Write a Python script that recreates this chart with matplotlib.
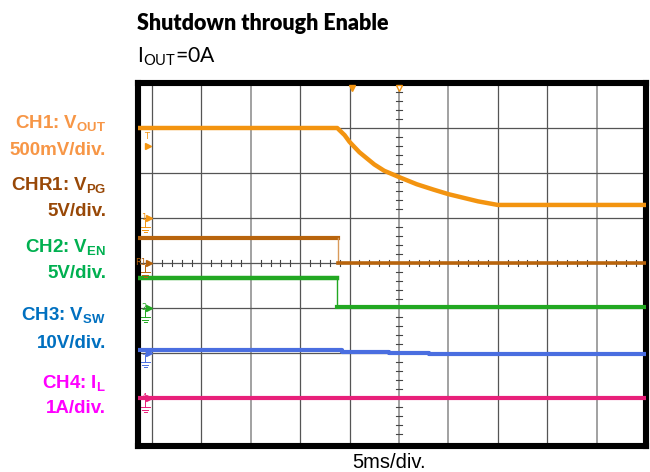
import matplotlib
matplotlib.use('Agg')
import matplotlib.pyplot as plt

plt.rcParams['mathtext.fontset'] = 'custom'
plt.rcParams['mathtext.rm'] = 'Lato'
plt.rcParams['mathtext.bf'] = 'Liberation Sans:bold'
plt.rcParams['mathtext.it'] = 'Liberation Sans:italic'

# ---------------- data (screen divisions) ----------------
vout_t = [-0.3, 3.75, 3.9, 4.0, 4.2, 4.5, 4.7, 5.0, 5.36, 5.7, 6.0, 6.3, 6.6, 7.0, 10.0]
vout_y = [7.0, 7.0, 6.84, 6.69, 6.46, 6.19, 6.05, 5.91, 5.75, 5.63, 5.53, 5.45, 5.37, 5.29, 5.29]

vpg_t = [-0.3, 3.77, 10.0]
vpg_y = [4.56, 4.0, 4.0]

ven_t = [-0.3, 3.75, 10.0]
ven_y = [3.67, 3.03, 3.03]

vsw_t = [-0.3, 3.85, 4.8, 5.6, 10.0]
vsw_y = [2.07, 2.03, 2.0, 1.97, 1.97]

il_t = [-0.3, 10.0]
il_y = [1.0, 1.0]

ground_levels = [5.0, 4.0, 3.0, 2.0, 1.0]
ground_names = ['1', 'R1', '2', '3', '4']

label_lines = [
    (r'CH1: V$_{\mathbf{OUT}}$', '500mV/div.'),
    (r'CHR1: V$_{\mathbf{PG}}$', '5V/div.'),
    (r'CH2: V$_{\mathbf{EN}}$', '5V/div.'),
    (r'CH3: V$_{\mathbf{SW}}$', '10V/div.'),
    (r'CH4: I$_{\mathbf{L}}$', '1A/div.'),
]

trace_colors = ['#F39410', '#B8640C', '#22A822', '#4A6EE0', '#E8207A']
label_colors = ['#F79646', '#984807', '#00B050', '#0070C0', '#FF00FF']

W, H = 650, 472
fig = plt.figure(figsize=(W / 100, H / 100), dpi=100)

def fx(x):
    return x / W

def fy(y):
    return 1 - y / H

ax = fig.add_axes([fx(138), fy(446), (646 - 138) / W, (446 - 83) / H])
ax.set_xlim(-0.283, 10.0)
ax.set_ylim(-0.067, 8.0)
ax.set_xticks([])
ax.set_yticks([])
for s in ax.spines.values():
    s.set_linewidth(4.4)
    s.set_color('black')

# grid
light = {2, 5, 6, 9}
for i in range(0, 10):
    ax.axvline(i, color='#9a9a9a' if i in light else '#555555',
               lw=1.3 if i in light else 0.9, zorder=1)
for j in range(1, 8):
    ax.axhline(j, color='#555555', lw=0.9, zorder=1)

# minor ticks on center lines
for k in range(0, 41):
    yy = k * 0.2
    if abs(yy - round(yy)) > 1e-6:
        ax.plot([4.93, 5.07], [yy, yy], color='#444444', lw=0.8, zorder=1)
for k in range(0, 50):
    xx = k * 0.2
    if abs(xx - round(xx)) > 1e-6:
        ax.plot([xx, xx], [3.94, 4.06], color='#444444', lw=0.8, zorder=1)

# traces
ax.plot(vout_t, vout_y, color=trace_colors[0], lw=3.2, zorder=5)

ax.plot([vpg_t[0], vpg_t[1]], [vpg_y[0], vpg_y[0]], color=trace_colors[1], lw=3.0, zorder=5)
ax.plot([vpg_t[1], vpg_t[1]], [vpg_y[0], vpg_y[1]], color='#D99A5A', lw=1.0, zorder=5)
ax.plot([vpg_t[1], vpg_t[2]], [vpg_y[1], vpg_y[2]], color=trace_colors[1], lw=2.6, zorder=5)

ax.plot([ven_t[0], ven_t[1]], [ven_y[0], ven_y[0]], color=trace_colors[2], lw=3.2, zorder=5)
ax.plot([ven_t[1], ven_t[1]], [ven_y[0], ven_y[1]], color=trace_colors[2], lw=1.0, zorder=5)
ax.plot([ven_t[1], ven_t[2]], [ven_y[1], ven_y[2]], color=trace_colors[2], lw=3.0, zorder=5)

ax.step(vsw_t, vsw_y, where='post', color=trace_colors[3], lw=3.0, zorder=5)
ax.plot(il_t, il_y, color=trace_colors[4], lw=3.0, zorder=5)

# ground markers
for lvl, name, col in zip(ground_levels, ground_names, trace_colors):
    ax.plot([-0.07], [lvl], marker='>', color=col, ms=4.5, zorder=6, clip_on=False)
    ax.text(-0.11, lvl + 0.02, name, color=col, fontsize=6, ha='right', va='center',
            family='DejaVu Sans', zorder=6)
    ax.plot([-0.14, -0.14], [lvl - 0.05, lvl - 0.2], color=col, lw=0.7, zorder=6)
    for w, d in [(0.09, 0.2), (0.06, 0.26), (0.03, 0.32)]:
        ax.plot([-0.14 - w, -0.14 + w], [lvl - d, lvl - d], color=col, lw=0.7, zorder=6)

# trigger markers
ax.text(-0.12, 6.82, 'T', color=trace_colors[0], fontsize=6, ha='center', va='center',
        family='DejaVu Sans')
ax.plot([-0.09], [6.6], marker='>', color=trace_colors[0], ms=4, zorder=6)
ax.plot([4.05], [7.89], marker='v', color=trace_colors[0], ms=5, zorder=6, clip_on=False)
ax.plot([5.0], [7.89], marker='v', mfc='white', mec=trace_colors[0], mew=1.0, ms=5,
        zorder=6, clip_on=False)

# left labels
baselines = [(128, 155), (190, 216), (252, 278), (320, 348), (388, 413)]
for (l1, l2), (b1, b2), col in zip(label_lines, baselines, label_colors):
    fig.text(fx(106), fy(b1), l1, color=col, fontsize=13.5, ha='right', va='baseline',
             family='Liberation Sans', fontweight='bold')
    fig.text(fx(106), fy(b2), l2, color=col, fontsize=13.5, ha='right', va='baseline',
             family='Liberation Sans', fontweight='bold')

# title and subtitle
fig.text(fx(137), fy(30), 'Shutdown through Enable', fontsize=15.5, fontweight='heavy',
         family='Lato', ha='left', va='baseline', color='black')
fig.text(fx(137), fy(63), r'I$_{\mathrm{OUT}}$=0A', fontsize=15.2, family='Lato',
         ha='left', va='baseline', color='black')

# x scale text
fig.text(fx(389), fy(468), '5ms/div.', fontsize=14.5, family='Liberation Sans',
         ha='center', va='baseline', color='black')

fig.savefig('out.png', dpi=100)
